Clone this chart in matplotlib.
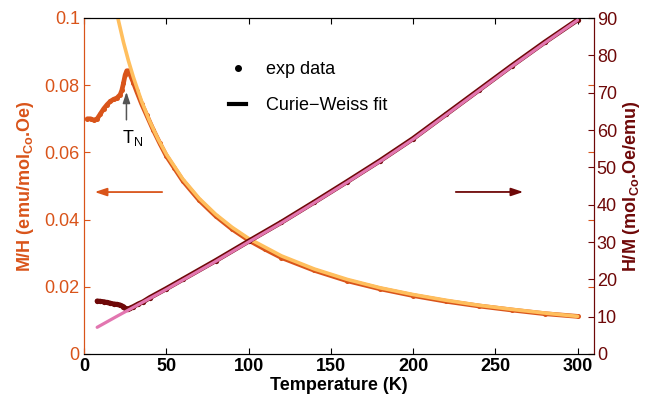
import matplotlib

matplotlib.use("Agg")
import matplotlib.pyplot as plt
from matplotlib.lines import Line2D

plt.rcParams["font.family"] = ["Liberation Sans", "DejaVu Sans"]
plt.rcParams["mathtext.fontset"] = "custom"
plt.rcParams["mathtext.rm"] = "Liberation Sans"
plt.rcParams["mathtext.it"] = "Liberation Sans:italic"
plt.rcParams["mathtext.bf"] = "Liberation Sans:bold"

ORANGE = "#d9541a"
FIT_ORANGE = "#ffbf5e"
MAROON = "#6e0808"
PINK = "#e276b0"

# susceptibility M/H, measured
t_mh = [2, 4, 6, 8, 10, 12, 14, 16, 18, 20, 22, 23, 24, 25, 26, 27, 28, 30, 32, 35,
        38, 42, 46, 50, 55, 60, 70, 80, 90, 100, 110, 120, 140, 160, 180, 200, 220,
        240, 260, 280, 300]
mh_exp = [0.0700, 0.0700, 0.0696, 0.0700, 0.0715, 0.0730, 0.0742, 0.0752, 0.0758,
          0.0762, 0.0772, 0.0785, 0.0806, 0.0830, 0.0843, 0.0843, 0.0832, 0.0808,
          0.0782, 0.0745, 0.0712, 0.0668, 0.0628, 0.0590, 0.0553, 0.0516, 0.0458,
          0.0411, 0.0372, 0.0339, 0.0312, 0.0287, 0.0249, 0.0218, 0.0194, 0.0174,
          0.0157, 0.0143, 0.0131, 0.0120, 0.0112]

# Curie-Weiss fit of M/H
t_mh_fit = [19, 21, 24, 27, 30, 35, 40, 45, 50, 60, 70, 80, 90, 100, 120, 140, 160,
            180, 200, 220, 240, 260, 280, 300]
mh_fit = [0.1037, 0.0991, 0.0928, 0.0873, 0.0824, 0.0752, 0.0692, 0.0640, 0.0595,
          0.0521, 0.0463, 0.0416, 0.0377, 0.0344, 0.0292, 0.0253, 0.0222, 0.0197,
          0.0177, 0.0160, 0.0145, 0.0133, 0.0122, 0.0112]

# inverse susceptibility H/M, measured
t_hm = [8, 10, 12, 14, 16, 18, 20, 22, 24, 25, 26, 27, 28, 30, 33, 36, 40, 50, 60,
        80, 100, 120, 140, 160, 180, 200, 220, 240, 260, 280, 300]
hm_exp = [14.2, 14.1, 14.0, 13.8, 13.6, 13.4, 13.3, 13.1, 12.7, 12.3, 12.0, 12.1,
          12.3, 12.7, 13.4, 14.0, 15.1, 17.5, 20.0, 25.0, 30.2, 35.3, 40.7, 46.2,
          51.8, 57.7, 64.2, 70.7, 77.2, 83.5, 89.5]

# Curie-Weiss fit of H/M
t_hm_fit = [8, 20, 30, 40, 50, 60, 80, 100, 120, 140, 160, 180, 200, 220, 240, 260,
            280, 300]
hm_fit = [7.15, 10.1, 12.5, 14.9, 17.3, 19.8, 24.8, 30.0, 35.1, 40.5, 46.0, 51.6,
          57.5, 64.0, 70.5, 77.0, 83.3, 89.4]

x_ticks = [0, 50, 100, 150, 200, 250, 300]
left_ticks = [0, 0.02, 0.04, 0.06, 0.08, 0.1]
left_labels = ["0", "0.02", "0.04", "0.06", "0.08", "0.1"]
right_ticks = [0, 10, 20, 30, 40, 50, 60, 70, 80, 90]

fig = plt.figure(figsize=(6.55, 3.94), dpi=100)
ax = fig.add_axes([84 / 655, 40 / 394, 510 / 655, 336 / 394])
ax2 = ax.twinx()

ax.plot(t_mh, mh_exp, "o-", color=ORANGE, lw=3.4, ms=3.6, mew=0,
        solid_capstyle="round", solid_joinstyle="round", zorder=2)
ax.plot(t_mh_fit, mh_fit, "-", color=FIT_ORANGE, lw=2.6, solid_capstyle="round",
        solid_joinstyle="round", zorder=3)

ax2.plot(t_hm, hm_exp, "o-", color=MAROON, lw=3.6, ms=3.8, mew=0,
         solid_capstyle="round", solid_joinstyle="round", zorder=2)
ax2.plot(t_hm_fit, hm_fit, "-", color=PINK, lw=2.3, solid_capstyle="round",
         solid_joinstyle="round", zorder=3)

ax.set_xlim(0, 310)
ax.set_ylim(0, 0.1)
ax2.set_ylim(0, 90)

ax.set_xticks(x_ticks)
ax.set_xticklabels([str(v) for v in x_ticks], fontweight="bold")
ax.set_yticks(left_ticks)
ax.set_yticklabels(left_labels)
ax2.set_yticks(right_ticks)

ax.tick_params(axis="x", direction="in", top=True, length=4, width=0.8,
               labelsize=13, pad=3, colors="black")
ax.tick_params(axis="y", direction="in", right=True, length=4, width=0.8,
               labelsize=13, pad=3, colors=ORANGE)
ax2.tick_params(axis="y", direction="in", length=4, width=0.8, labelsize=13,
                pad=2, colors=MAROON)

for a in (ax, ax2):
    a.spines["top"].set_color("black")
    a.spines["bottom"].set_color("black")
    a.spines["left"].set_color(ORANGE)
    a.spines["right"].set_color(MAROON)

ax.set_xlabel("Temperature (K)", fontsize=13, fontweight="bold", labelpad=1)
ax.set_ylabel(r"M/H (emu/mol$_\mathbf{Co}$.Oe)", fontsize=13, fontweight="bold",
              color=ORANGE)
ax.yaxis.set_label_coords(-0.095, 0.5)
ax2.set_ylabel(r"H/M (mol$_\mathbf{Co}$.Oe/emu)", fontsize=13, fontweight="bold",
               color=MAROON)
ax2.yaxis.set_label_coords(1.052, 0.5)

# arrows pointing each curve to its axis
arrow_style = "-|>,head_length=0.6,head_width=0.2"
ax.annotate("", xy=(6.5, 0.0482), xytext=(47.5, 0.0482),
            arrowprops=dict(arrowstyle=arrow_style, color=ORANGE, lw=1.3,
                            mutation_scale=12, shrinkA=0, shrinkB=0))
ax2.annotate("", xy=(267, 43.4), xytext=(226, 43.4),
             arrowprops=dict(arrowstyle=arrow_style, color=MAROON, lw=1.3,
                             mutation_scale=12, shrinkA=0, shrinkB=0))

# Neel temperature marker
ax.annotate("", xy=(25.8, 0.0780), xytext=(25.8, 0.0697),
            arrowprops=dict(arrowstyle=arrow_style, color="#555555", lw=1.1,
                            mutation_scale=11, shrinkA=0, shrinkB=0))
ax.text(29.5, 0.0643, r"T$_\mathregular{N}$", fontsize=13, ha="center", va="center")

handles = [
    Line2D([], [], ls="none", marker="o", ms=4, color="black"),
    Line2D([], [], ls="-", lw=3, color="black"),
]
fig.legend(handles, ["exp data", "Curie\u2212Weiss fit"], loc="upper left",
           bbox_to_anchor=(229 / 655, 1 - 61 / 394), frameon=False, fontsize=13,
           handlelength=0.95, handletextpad=1.1, labelspacing=1.05, borderpad=0,
           borderaxespad=0)

fig.savefig("out.png", dpi=100)
